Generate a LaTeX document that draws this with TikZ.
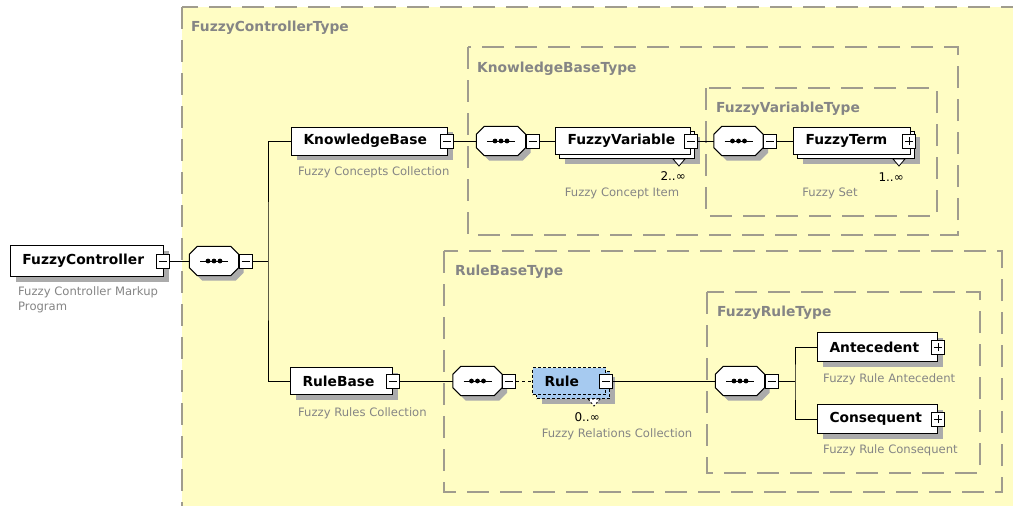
\documentclass[tikz,border=0pt]{standalone}
\usepackage{fontspec}
\setmainfont{DejaVu Sans}
\usetikzlibrary{shadows}

\definecolor{panelfill}{HTML}{FFFDC4}
\definecolor{framegray}{HTML}{A09C8E}
\definecolor{notegray}{HTML}{858585}
\definecolor{shadegray}{HTML}{ABABAB}
\definecolor{rulefill}{HTML}{A6CAF0}

\tikzset{
  typeframe/.style={draw=framegray, line width=1.5pt, dash pattern=on 22pt off 11pt, fill=panelfill},
  typelabel/.style={anchor=base west, inner sep=0pt, text=notegray, font=\bfseries\fontsize{13.8}{16}\selectfont},
  elem/.style={rectangle, draw=black, fill=white, line width=1pt, inner xsep=12pt, inner ysep=0pt,
    anchor=west, align=left, font=\bfseries\fontsize{13.8}{16}\selectfont},
  single/.style={drop shadow={shadow xshift=5pt, shadow yshift=-5pt, fill=shadegray, opacity=1}},
  stack/.style={drop shadow={shadow xshift=9pt, shadow yshift=-9pt, fill=shadegray, opacity=1},
    copy shadow={shadow xshift=4pt, shadow yshift=-4pt, fill=white, draw=black, line width=1pt, opacity=1}},
  stackopt/.style={fill=rulefill, dash pattern=on 3pt off 2pt,
    drop shadow={shadow xshift=9pt, shadow yshift=-9pt, fill=shadegray, opacity=1},
    copy shadow={shadow xshift=4pt, shadow yshift=-4pt, fill=rulefill, draw=black, line width=1pt,
      dash pattern=on 3pt off 2pt, opacity=1}},
  toggleminus/.style={rectangle, draw=black, fill=white, line width=0.9pt, minimum width=13pt,
    minimum height=14pt, inner sep=0pt,
    path picture={\draw[line width=0.9pt] ([xshift=-4pt]path picture bounding box.center)
      -- ([xshift=4pt]path picture bounding box.center);}},
  toggleplus/.style={rectangle, draw=black, fill=white, line width=0.9pt, minimum width=13pt,
    minimum height=14pt, inner sep=0pt,
    path picture={\draw[line width=0.9pt] ([xshift=-4pt]path picture bounding box.center)
      -- ([xshift=4pt]path picture bounding box.center)
      ([yshift=-4pt]path picture bounding box.center)
      -- ([yshift=4pt]path picture bounding box.center);}},
  seqbox/.style={rectangle, minimum width=49pt, minimum height=29pt, inner sep=0pt},
  seqline/.style={draw=black, line width=1pt, fill=white, line join=miter},
  wire/.style={draw=black, line width=1pt},
  note/.style={inner sep=0pt, text=notegray, font=\fontsize{11.6}{15}\selectfont},
  card/.style={inner sep=0pt, font=\fontsize{12}{14}\selectfont},
  tab/.style={draw=black, line width=0.8pt, fill=white}
}

% octagonal outline of a sequence compositor around node #1
\newcommand{\octpath}[1]{([xshift=8pt]#1.north west) -- ([xshift=-8pt]#1.north east)
  -- ([yshift=-8pt]#1.north east) -- ([yshift=8pt]#1.south east)
  -- ([xshift=-8pt]#1.south east) -- ([xshift=8pt]#1.south west)
  -- ([yshift=8pt]#1.south west) -- ([yshift=-8pt]#1.north west) -- cycle}
% shadow, outline and the dotted bar of a sequence compositor
\newcommand{\seqmark}[1]{%
  \fill[shadegray, transform canvas={shift={(5pt,-5pt)}}] \octpath{#1};
  \draw[seqline] \octpath{#1};
  \draw[line width=1pt] ([xshift=-14pt]#1.center) -- ([xshift=14pt]#1.center);
  \foreach \dx in {-6,0,6} \fill ([xshift=\dx pt]#1.center) circle (2.4pt);}

\begin{document}
\begin{tikzpicture}[x=1pt,y=-1pt]
\useasboundingbox (0,0) rectangle (1013,506);
\clip (0,0) rectangle (1013,506);
\fill[white] (0,0) rectangle (1013,506);

% nested complex type panels
\draw[typeframe] (182,7) rectangle (1030,520);
\node[typelabel] (fctype) at (191,31) {FuzzyControllerType};
\draw[typeframe] (468,47) rectangle (958,235);
\node[typelabel] (kbtype) at (477,72) {KnowledgeBaseType};
\draw[typeframe] (706,88) rectangle (937,216);
\node[typelabel] (fvtype) at (716,112) {FuzzyVariableType};
\draw[typeframe] (444,251) rectangle (1002,492);
\node[typelabel] (rbtype) at (455,275) {RuleBaseType};
\draw[typeframe] (707,292) rectangle (980,473);
\node[typelabel] (frtype) at (717,316) {FuzzyRuleType};

% elements
\node[elem, single, text width=129pt, minimum height=31pt] (fc) at (10,261) {FuzzyController};
\node[elem, single, text width=132pt, minimum height=28pt] (kb) at (291,141) {KnowledgeBase};
\node[elem, stack, text width=111pt, minimum height=27pt] (fv) at (555,141) {FuzzyVariable};
\node[elem, stack, text width=93pt, minimum height=27pt] (ft) at (793,141) {FuzzyTerm};
\node[elem, single, text width=78pt, minimum height=27pt] (rb) at (290,381) {RuleBase};
\node[elem, stackopt, text width=49pt, minimum height=27pt] (rule) at (532,381) {Rule};
\node[elem, single, text width=96pt, minimum height=29pt] (ant) at (817,347) {Antecedent};
\node[elem, single, text width=96pt, minimum height=29pt] (con) at (817,419) {Consequent};

% occurrence tabs under repeated elements
\draw[tab] ([shift={(-18,4)}]fv.south east) -- ++(12,0) -- ++(-6,7) -- cycle;
\draw[tab] ([shift={(-18,4)}]ft.south east) -- ++(12,0) -- ++(-6,7) -- cycle;
\draw[tab, dash pattern=on 2pt off 2pt] ([shift={(-18,4)}]rule.south east) -- ++(12,0) -- ++(-6,7) -- cycle;

% expand / collapse toggles
\node[toggleminus] (fcm) at ([xshift=-1pt]fc.east) {};
\node[toggleminus] (kbm) at ([xshift=-1pt]kb.east) {};
\node[toggleminus] (fvm) at (fv.east) {};
\node[toggleplus] (ftm) at ([xshift=-2pt]ft.east) {};
\node[toggleminus] (rbm) at (rb.east) {};
\node[toggleminus] (rulem) at (rule.east) {};
\node[toggleplus] (antm) at (ant.east) {};
\node[toggleplus] (conm) at (con.east) {};

% sequence compositors
\node[seqbox] (c1) at (214,261) {};
\node[seqbox] (c2) at (501,141) {};
\node[seqbox] (c3) at (738.5,141) {};
\node[seqbox] (c4) at (477.5,381) {};
\node[seqbox] (c5) at (740,381) {};
\seqmark{c1}
\seqmark{c2}
\seqmark{c3}
\seqmark{c4}
\seqmark{c5}
\node[toggleminus, anchor=west] (c1m) at (c1.east) {};
\node[toggleminus, anchor=west] (c2m) at (c2.east) {};
\node[toggleminus, anchor=west] (c3m) at (c3.east) {};
\node[toggleminus, anchor=west] (c4m) at (c4.east) {};
\node[toggleminus, anchor=west] (c5m) at (c5.east) {};

% connectors
\coordinate (b1) at (268,261);
\coordinate (b2) at (795,381);
\draw[wire] (fcm.east) -- (c1.west);
\draw[wire] (c1m.east) -- (b1);
\draw[wire] (kb.west) -| (b1) |- (rb.west);
\draw[wire] (kbm.east) -- (c2.west);
\draw[wire] (c2m.east) -- (fv.west);
\draw[wire] (fvm.east) -- (c3.west);
\draw[wire] (c3m.east) -- (ft.west);
\draw[wire] (rbm.east) -- (c4.west);
\draw[wire, dash pattern=on 3pt off 3pt] (c4m.east) -- (rule.west);
\draw[wire] (rulem.east) -- (c5.west);
\draw[wire] (c5m.east) -- (b2);
\draw[wire] (ant.west) -| (b2) |- (con.west);

% occurrence ranges
\node[card, anchor=east] (fvcard) at (686,176) {2..∞};
\node[card, anchor=east] (ftcard) at (904,177) {1..∞};
\node[card, anchor=east] (rulecard) at (600,417) {0..∞};

% documentation notes
\node[note, anchor=west, align=left] (fcnote) at (18,300) {Fuzzy Controller Markup\\Program};
\node[note, anchor=west] (kbnote) at (298,172) {Fuzzy Concepts Collection};
\node[note] (fvnote) at (622,193) {Fuzzy Concept Item};
\node[note] (ftnote) at (830,193) {Fuzzy Set};
\node[note, anchor=west] (rbnote) at (298,413) {Fuzzy Rules Collection};
\node[note] (rulenote) at (617,434) {Fuzzy Relations Collection};
\node[note, anchor=west] (antnote) at (823,379) {Fuzzy Rule Antecedent};
\node[note, anchor=west] (connote) at (823,450) {Fuzzy Rule Consequent};
\end{tikzpicture}
\end{document}
